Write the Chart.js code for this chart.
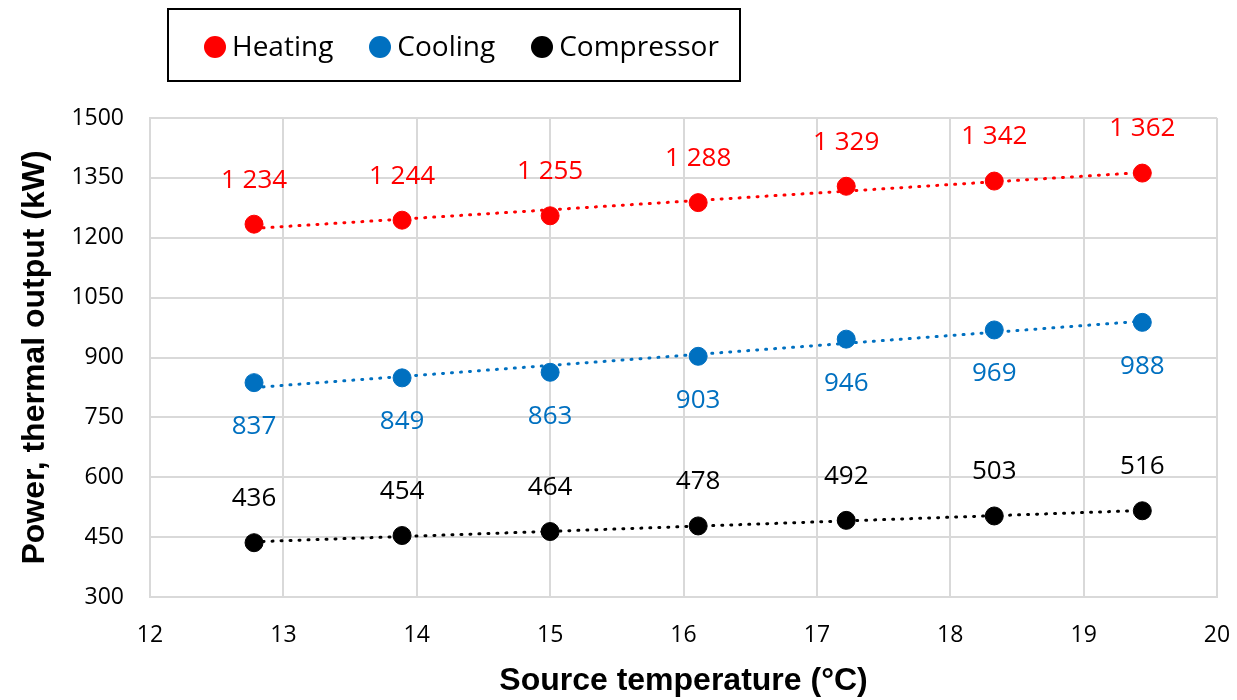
<!DOCTYPE html>
<html>
<head>
<meta charset="utf-8">
<script src="https://cdn.jsdelivr.net/npm/chart.js@4"></script>
<style>
  body { margin: 0; background: #fff; }
  #wrap { position: relative; width: 1237px; height: 700px; }
  #legend {
    position: absolute; left: 167px; top: 8px; width: 570px; height: 70px;
    border: 2px solid #000; box-sizing: content-box; padding-left: 0;
    display: flex; align-items: center; justify-content: flex-start; gap: 36px;
    font-family: "Open Sans", sans-serif; font-size: 28px; color: #000;
  }
  #legend div:first-child { margin-left: 35px; }
  #legend span.dot { display: inline-block; width: 22px; height: 22px; border-radius: 50%; margin-right: 6px; vertical-align: -2px; }
</style>
</head>
<body>
<div id="wrap">
  <canvas id="chart" width="1237" height="700"></canvas>
  <div id="legend"></div>
</div>
<script>
/* ====== data ===== */
const temps = [12.78, 13.89, 15.0, 16.11, 17.22, 18.33, 19.44];
const heating = [1234, 1244, 1255, 1288, 1329, 1342, 1362];
const cooling = [837, 849, 863, 903, 946, 969, 988];
const compressor = [436, 454, 464, 478, 492, 503, 516];
const yTicks = [300, 450, 600, 750, 900, 1050, 1200, 1350, 1500];

const seriesNames = ['Heating', 'Cooling', 'Compressor'];
const seriesColors = ['#ff0000', '#0070c0', '#000000'];
const seriesData = [heating, cooling, compressor];
const labelSide = [-1, 1, -1]; // label above (-1) or below (1) the point

// linear trendline from first to last x
function trend(ys) {
  const n = temps.length;
  const mx = temps.reduce((a, b) => a + b, 0) / n;
  const my = ys.reduce((a, b) => a + b, 0) / n;
  let sxy = 0, sxx = 0;
  temps.forEach((x, i) => { sxy += (x - mx) * (ys[i] - my); sxx += (x - mx) * (x - mx); });
  const b = sxy / sxx, a = my - b * mx;
  const x0 = temps[0], x1 = temps[n - 1];
  return [{x: x0, y: a + b * x0}, {x: x1, y: a + b * x1}];
}

const datasets = [];
seriesData.forEach((ys, i) => {
  datasets.push({
    label: seriesNames[i],
    data: temps.map((x, j) => ({x: x, y: ys[j]})),
    backgroundColor: seriesColors[i],
    borderColor: seriesColors[i],
    pointRadius: 9,
    pointHoverRadius: 9,
    showLine: false,
    order: 1,
    isMain: true
  });
  datasets.push({
    label: seriesNames[i] + ' trend',
    data: trend(ys),
    borderColor: seriesColors[i],
    borderWidth: 3,
    borderDash: [1, 8],
    borderCapStyle: 'round',
    pointRadius: 0,
    showLine: true,
    order: 2
  });
});

/* ====== legend ===== */
const legend = document.querySelector('#legend');
seriesNames.forEach((name, i) => {
  const item = document.createElement('div');
  item.innerHTML = '<span class="dot" style="background:' + seriesColors[i] + '"></span>' + name;
  legend.appendChild(item);
});

/* ====== value labels ===== */
const valueLabels = {
  id: 'valueLabels',
  afterDatasetsDraw(chart) {
    const ctx = chart.ctx;
    ctx.save();
    ctx.font = '26px "Open Sans", sans-serif';
    ctx.textAlign = 'center';
    ctx.textBaseline = 'middle';
    chart.data.datasets.forEach((ds, di) => {
      if (!ds.isMain) return;
      const meta = chart.getDatasetMeta(di);
      const idx = seriesNames.indexOf(ds.label);
      ctx.fillStyle = seriesColors[idx];
      meta.data.forEach((pt, j) => {
        const v = ds.data[j].y;
        const txt = v >= 1000 ? String(v).replace(/\B(?=(\d{3})+(?!\d))/g, ' ') : String(v);
        ctx.fillText(txt, pt.x, pt.y + labelSide[idx] * 44);
      });
    });
    ctx.restore();
  }
};

const config = {
  type: 'scatter',
  data: { datasets: datasets },
  options: {
    responsive: false,
    animation: false,
    layout: { padding: { top: 118, right: 20, left: 16, bottom: 0 } },
    plugins: { legend: { display: false }, tooltip: { enabled: false } },
    scales: {
      x: {
        type: 'linear',
        min: 12, max: 20,
        ticks: { stepSize: 1, color: '#000', padding: 25, maxRotation: 0, font: { family: 'Open Sans', size: 23 } },
        grid: { color: '#d9d9d9', lineWidth: 2, drawTicks: false },
        border: { color: '#d9d9d9', width: 2 },
        title: { display: true, text: 'Source temperature (°C)', color: '#000',
                 font: { family: 'Liberation Sans', size: 32, weight: 'bold' }, padding: { top: 0, bottom: 0 } },
        afterFit(scale) { scale.height = 103; scale.paddingRight = 0; scale.paddingLeft = 0; }
      },
      y: {
        min: 300, max: 1500,
        afterBuildTicks(scale) { scale.ticks = yTicks.map(v => ({value: v})); },
        ticks: { color: '#000', padding: 26, font: { family: 'Open Sans', size: 23 },
                 callback: v => String(v) },
        grid: { color: '#d9d9d9', lineWidth: 2, drawTicks: false },
        border: { color: '#d9d9d9', width: 2 },
        title: { display: true, text: 'Power, thermal output (kW)', color: '#000',
                 font: { family: 'Liberation Sans', size: 32, weight: 'bold' }, padding: { top: 0, bottom: 0 } },
        afterFit(scale) { scale.width = 134; }
      }
    }
  },
  plugins: [valueLabels]
};

const chart = new Chart(document.querySelector('#chart'), config);
</script>
</body>
</html>
